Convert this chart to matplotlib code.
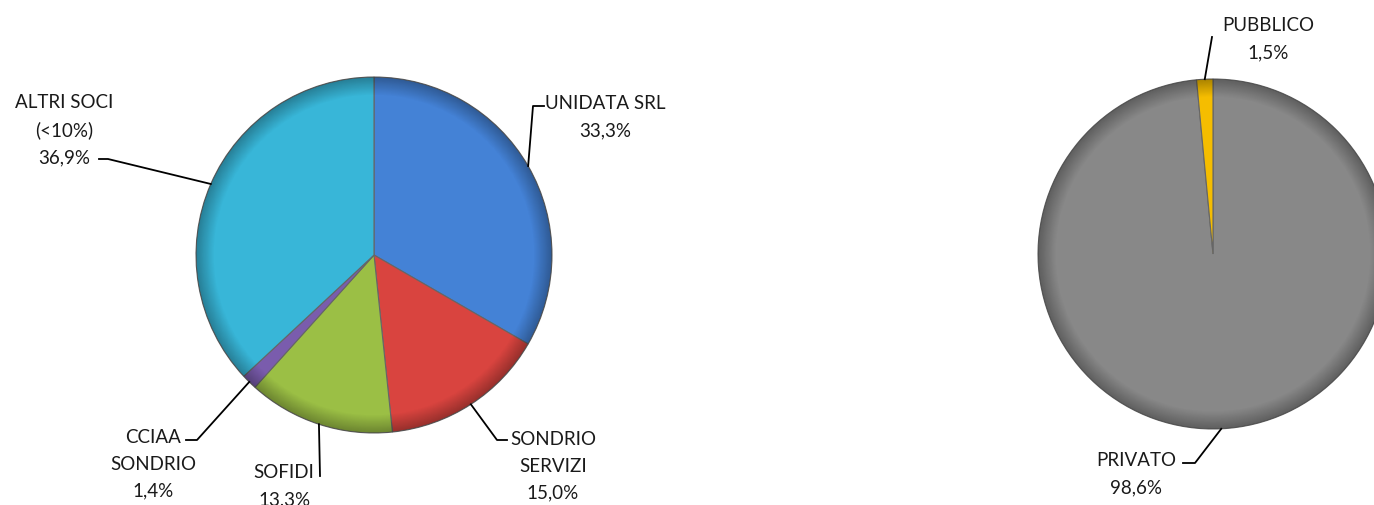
import numpy as np
import matplotlib
matplotlib.use("Agg")
import matplotlib.pyplot as plt
from matplotlib.patches import Circle

# data
soci = ["UNIDATA SRL", "SONDRIO\nSERVIZI", "SOFIDI", "CCIAA\nSONDRIO", "ALTRI SOCI\n(<10%)"]
quote = [33.3, 15.0, 13.3, 1.4, 36.9]
colori_soci = ["#4482d6", "#d9443f", "#9bbf45", "#7a5cad", "#38b6d8"]

tipo = ["PRIVATO", "PUBBLICO"]
quote_tipo = [98.6, 1.5]
colori_tipo = ["#888888", "#f5bd00"]

W, H = 1374, 505
plt.rcParams['font.family'] = ['Lato', 'DejaVu Sans']

fig = plt.figure(figsize=(W / 100, H / 100), dpi=100)
ax = fig.add_axes([0, 0, 1, 1])
ax.set_xlim(0, W)
ax.set_ylim(0, H)
ax.set_aspect('equal')
ax.axis('off')


def fy(y):
    # pixel row (from top) -> data y
    return H - y


def shade(cx, cy, r):
    # darken the rim a little to mimic the bevel of the original
    n = 300
    g = np.linspace(-1, 1, n)
    xx, yy = np.meshgrid(g, g)
    d = np.sqrt(xx ** 2 + yy ** 2)
    img = np.zeros((n, n, 4))
    a = np.clip((d - 0.9) / 0.1, 0, 1) * 0.3
    img[..., 3] = a
    im = ax.imshow(img, extent=[cx - r, cx + r, cy - r, cy + r], zorder=3)
    im.set_clip_path(Circle((cx, cy), r, transform=ax.transData))


def pie_with_labels(vals, names, cols, cx, cy, r, layout):
    wedges, _ = ax.pie(vals, colors=cols, startangle=90, counterclock=False,
                       center=(cx, cy), radius=r, normalize=True,
                       wedgeprops=dict(linewidth=0.8, edgecolor="#666666"))
    ax.set_xlim(0, W)
    ax.set_ylim(0, H)
    shade(cx, cy, r)
    for w, name, v, lay in zip(wedges, names, vals, layout):
        ang = np.deg2rad((w.theta1 + w.theta2) / 2)
        ex, ey = cx + r * np.cos(ang), cy + r * np.sin(ang)
        pts = [(ex, ey)] + [(px, fy(py)) for px, py in lay["path"]]
        xs, ys = zip(*pts)
        ax.plot(xs, ys, color="black", lw=1.3, zorder=4)
        txt = name + "\n" + ("%.1f%%" % v).replace(".", ",")
        tx, ty = lay["text"]
        ax.text(tx, fy(ty), txt, ha="center", va="center", fontsize=13.5,
                color="#1a1a1a", linespacing=1.7, zorder=5)


layout_soci = [
    dict(path=[(533, 106), (544, 106)], text=(605, 117)),
    dict(path=[(497, 440), (507, 440)], text=(553, 466)),
    dict(path=[(320, 476)], text=(284, 486)),
    dict(path=[(197, 440), (186, 440)], text=(153, 464)),
    dict(path=[(108, 159), (99, 159)], text=(64, 130)),
]
layout_tipo = [
    dict(path=[(1195, 463), (1183, 463)], text=(1136, 474)),
    dict(path=[(1212, 37)], text=(1268, 39)),
]

pie_with_labels(quote, soci, colori_soci, 374, fy(255), 178, layout_soci)
pie_with_labels(quote_tipo, tipo, colori_tipo, 1213, fy(254), 175, layout_tipo)

fig.savefig("out.png", dpi=100)
